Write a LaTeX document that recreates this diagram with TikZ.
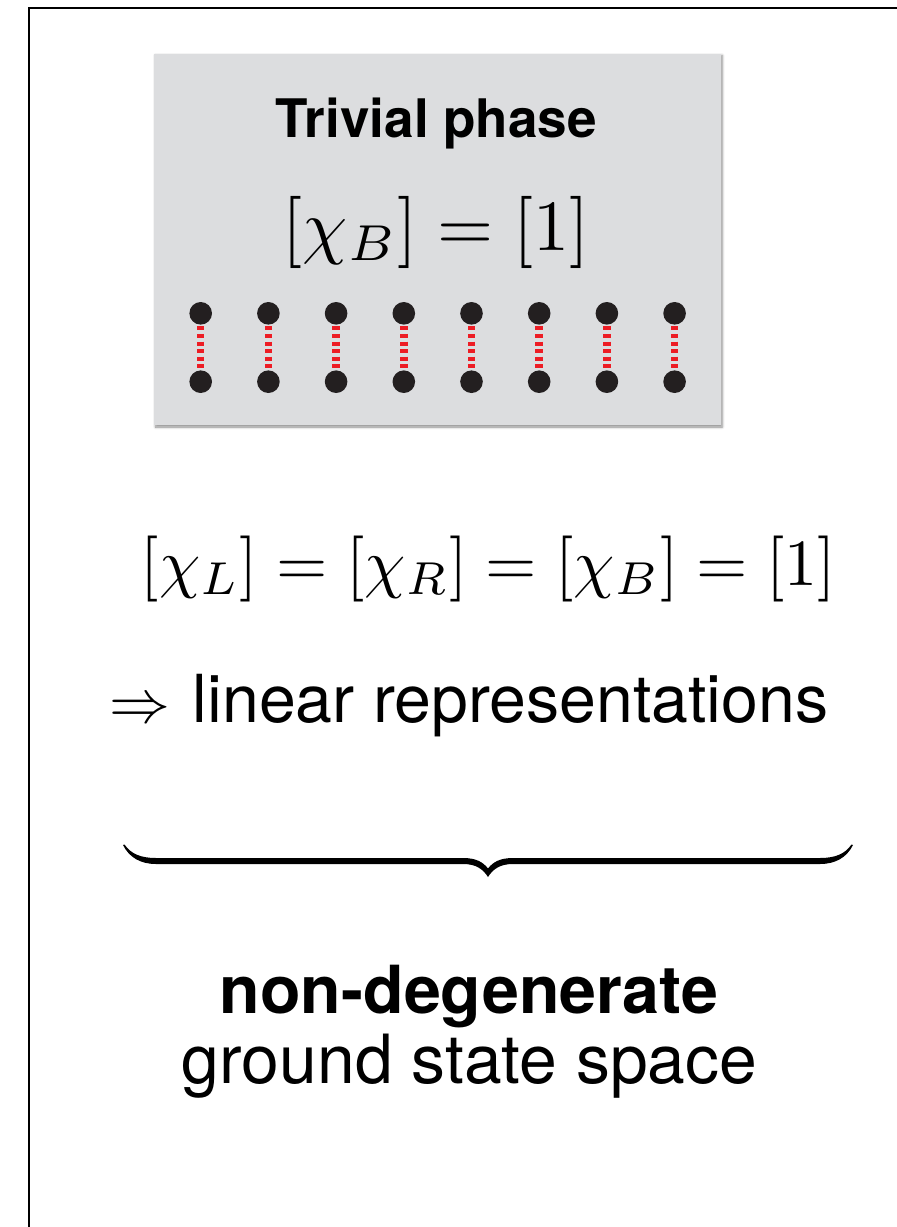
\documentclass[tikz,border=0pt]{standalone}
\usepackage{fontspec}
\usepackage{graphicx}
\usetikzlibrary{shadows.blur}
\newfontfamily\hv{TeX Gyre Heros}
\definecolor{boxgray}{HTML}{DCDDDF}
\definecolor{dotblack}{HTML}{231F20}
\definecolor{bondred}{HTML}{ED1C24}
\begin{document}
\begin{tikzpicture}[x=1pt,y=-1pt,
  dotnode/.style={circle,fill=dotblack,inner sep=0pt,minimum size=22.6pt},
  bond/.style={draw=bondred,line width=7.5pt,dash pattern=on 4pt off 3.6pt,shorten <=1.5pt},
  txt/.style={inner sep=0pt,anchor=base}]
\useasboundingbox (0,0) rectangle (897,1227);
% frame
\draw[line width=2.2pt] (29.3,1240) -- (29.3,8.3) -- (910,8.3);
% gray box
\node[fill=boxgray,inner sep=0pt,minimum width=566.7pt,minimum height=371.5pt,
  blur shadow={shadow xshift=1.5pt,shadow yshift=-2pt,shadow blur steps=6,shadow blur radius=2.5pt,shadow opacity=45}]
  (box) at (437.35,239.25) {};
\node[txt] (title) at (436.5,137) {\resizebox{321pt}{!}{\hv\bfseries Trivial phase}};
\node[txt] (eqbox) at (436.5,250) {\resizebox{307pt}{!}{$[\chi_B]=[1]$}};
% dimers
\foreach \i in {0,...,7}{
  \node[dotnode] (t\i) at ({200.7+67.7*\i},313.3) {};
  \node[dotnode] (b\i) at ({200.7+67.7*\i},381.7) {};
  \draw[bond] (t\i) -- (b\i);
}
% texts
\node[txt] (eqall) at (488.5,585) {\resizebox{695pt}{!}{$[\chi_L]=[\chi_R]=[\chi_B]=[1]$}};
\node[txt] (lin) at (469,722) {\resizebox{718pt}{!}{\scalebox{0.92}{$\Rightarrow$}\ \hv linear representations}};
% brace
\fill (123,845) .. controls (129,857) and (140,864) .. (156,864) -- (463,864)
  .. controls (476,864) and (483,869) .. (488,877)
  .. controls (493,869) and (500,864) .. (513,864) -- (820,864)
  .. controls (836,864) and (847,857) .. (853,845)
  -- (851.5,844.5) .. controls (845,854) and (835,858) .. (820,858) -- (513,858)
  .. controls (500,858) and (493,862) .. (488,868.5)
  .. controls (483,862) and (476,858) .. (463,858) -- (156,858)
  .. controls (141,858) and (131,854) .. (124.5,844.5) -- cycle;
\node[txt] (nondeg) at (469,1013) {\resizebox{498pt}{!}{\hv\bfseries non-degenerate}};
\node[txt] (gss) at (469.5,1083) {\resizebox{575pt}{!}{\hv ground state space}};
\end{tikzpicture}
\end{document}
